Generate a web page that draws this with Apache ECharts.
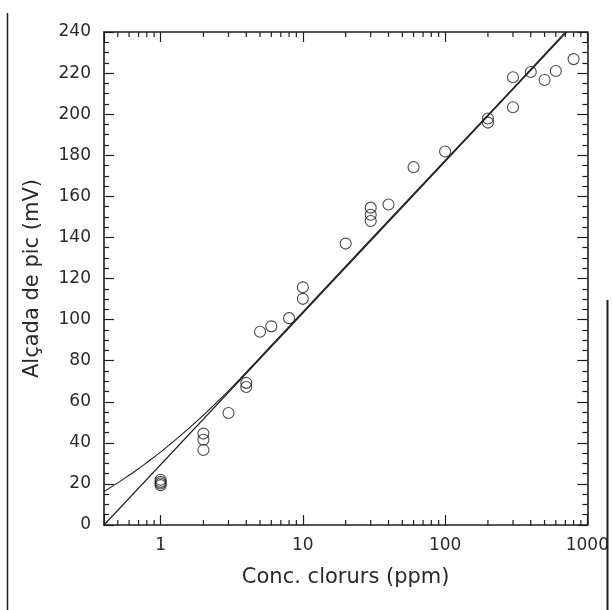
<!DOCTYPE html>
<html>
<head>
<meta charset="utf-8">
<script src="https://cdn.jsdelivr.net/npm/echarts@6/dist/echarts.min.js"></script>
<style>
  html, body { margin: 0; padding: 0; background: #fff; }
  #chart { width: 612px; height: 610px; }
</style>
</head>
<body>
<div id="chart"></div>
<script>
// Measured peak heights against chloride concentration
const concPpm = [1, 1, 1, 1, 2, 2, 2, 3, 4, 4, 5, 6, 8, 10, 10, 20, 30, 30, 30, 40, 60, 100, 200, 200, 300, 300, 400, 500, 600, 800];
const peakMv  = [22, 21, 20.2, 19.4, 44.5, 41.5, 36.5, 54.5, 69.2, 67.2, 94.1, 96.7, 100.7, 115.7, 110.1, 137, 154.5, 151, 148, 156, 174.2, 181.8, 197.9, 195.9, 218, 203.4, 220.5, 216.6, 221, 226.8];

// Log-linear calibration line
const fitLinX = [0.4, 715];
const fitLinY = [0, 240];

// Second calibration curve (bends up at low concentration)
const fitCurveX = [0.4, 0.5, 0.6, 0.7, 0.8, 1, 1.5, 2, 3, 4, 6, 10, 30, 100, 300, 700];
const fitCurveY = [16.3, 20.5, 24.2, 27.4, 30.4, 35.5, 45.7, 53.5, 65.3, 74.4, 87.4, 103.8, 139, 177.5, 212.6, 240];

// Axis tick values
const xMinorTicks = [0.5, 0.6, 0.7, 0.8, 0.9, 2, 3, 4, 5, 6, 7, 8, 9, 20, 30, 40, 50, 60, 70, 80, 90, 200, 300, 400, 500, 600, 700, 800, 900];
const yMin = 0, yMax = 240, yStep = 20;

const INK = '#1e1e1e';
const TEXT = '#2a2a2a';
const FONT = 'DejaVu Sans';

const chart = echarts.init(document.getElementById('chart'), null, { renderer: 'canvas' });

function isDecade(v) {
  const l = Math.log10(v);
  return v >= 1 && Math.abs(l - Math.round(l)) < 1e-6;
}

const xCommon = {
  type: 'log', logBase: 10, min: 0.4, max: 1000,
  axisLine: { show: true, onZero: false, lineStyle: { color: INK, width: 1.6 } },
  axisTick: { show: true, inside: true, length: 10, lineStyle: { color: INK, width: 1.2 } },
  splitLine: { show: false },
  minorTick: { show: false },
  minorSplitLine: { show: false }
};

const yCommon = {
  type: 'value', min: yMin, max: yMax, interval: yStep,
  axisLine: { show: true, onZero: false, lineStyle: { color: INK, width: 1.6 } },
  axisTick: { show: true, inside: true, length: 10, lineStyle: { color: INK, width: 1.2 } },
  minorTick: { show: true, splitNumber: 4, length: 5, lineStyle: { color: INK, width: 1.2 } },
  splitLine: { show: false },
  minorSplitLine: { show: false }
};

const option = {
  animation: false,
  backgroundColor: '#fff',
  grid: { left: 104, right: 22, top: 32, bottom: 85 },
  xAxis: [
    Object.assign({}, xCommon, {
      position: 'bottom',
      axisLabel: {
        margin: 12, fontSize: 17, color: TEXT, fontFamily: FONT,
        formatter: v => (isDecade(v) ? String(Math.round(v)) : '')
      },
      name: 'Conc. clorurs (ppm)',
      nameLocation: 'middle', nameGap: 42,
      nameTextStyle: { fontSize: 21, color: TEXT, fontFamily: FONT }
    }),
    Object.assign({}, xCommon, { position: 'top', axisLabel: { show: false } })
  ],
  yAxis: [
    Object.assign({}, yCommon, {
      position: 'left',
      axisLabel: { margin: 13, fontSize: 17, color: TEXT, fontFamily: FONT },
      name: 'Alçada de pic (mV)',
      nameLocation: 'middle', nameGap: 61, nameRotate: 90,
      nameTextStyle: { fontSize: 21, color: TEXT, fontFamily: FONT }
    }),
    Object.assign({}, yCommon, { position: 'right', axisLabel: { show: false } })
  ],
  graphic: [
    { type: 'line', z: 100, shape: { x1: 7.5, y1: 13, x2: 7.5, y2: 610 }, style: { stroke: INK, lineWidth: 1.5 } },
    { type: 'line', z: 100, shape: { x1: 607.5, y1: 300, x2: 607.5, y2: 610 }, style: { stroke: INK, lineWidth: 2 } }
  ],
  series: [
    {
      // minor ticks of the logarithmic axis, bottom and top edges
      type: 'custom', xAxisIndex: 0, yAxisIndex: 0, silent: true, clip: false,
      encode: { x: 0, y: 1 },
      data: xMinorTicks.map(v => [v, yMin]),
      renderItem: (params, api) => {
        const v = api.value(0);
        const b = api.coord([v, yMin]);
        const t = api.coord([v, yMax]);
        const st = { stroke: INK, lineWidth: 1.2 };
        return {
          type: 'group',
          children: [
            { type: 'line', shape: { x1: b[0], y1: b[1], x2: b[0], y2: b[1] - 5 }, style: st },
            { type: 'line', shape: { x1: t[0], y1: t[1], x2: t[0], y2: t[1] + 5 }, style: st }
          ]
        };
      }
    },
    {
      type: 'line', xAxisIndex: 0, yAxisIndex: 0,
      data: fitLinX.map((x, i) => [x, fitLinY[i]]),
      showSymbol: false, symbol: 'none',
      lineStyle: { color: INK, width: 1.1 }
    },
    {
      type: 'line', xAxisIndex: 0, yAxisIndex: 0,
      data: fitCurveX.map((x, i) => [x, fitCurveY[i]]),
      showSymbol: false, symbol: 'none', smooth: 0.3,
      lineStyle: { color: INK, width: 1.1 }
    },
    {
      type: 'scatter', xAxisIndex: 0, yAxisIndex: 0,
      data: concPpm.map((x, i) => [x, peakMv[i]]),
      symbol: 'circle', symbolSize: 11,
      itemStyle: { color: 'rgba(0,0,0,0)', borderColor: INK, borderWidth: 1.1 }
    }
  ]
};

chart.setOption(option);
</script>
</body>
</html>
